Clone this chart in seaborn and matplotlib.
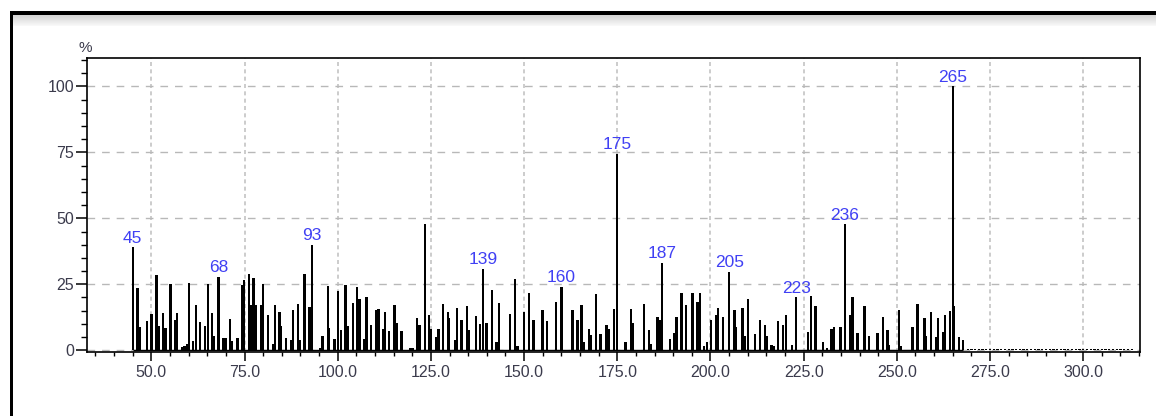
import numpy as np
import pandas as pd
import matplotlib
matplotlib.use("Agg")
import matplotlib.pyplot as plt
from matplotlib.patches import Rectangle
from matplotlib.ticker import MultipleLocator, FixedLocator, FuncFormatter
import seaborn as sns

# Mass spectrum: m/z positions and relative intensities (%)
mz = [
    45, 46.3, 46.9, 48.8, 50.0, 51.4, 52.0, 53.2, 53.8, 55.1, 56.3, 56.9, 58.2, 58.9, 59.6,
    60.1, 61.2, 61.9, 63.0, 64.4, 65.1, 66.2, 66.8, 68, 69.3, 69.9, 71.1, 71.7, 73.1, 74.4,
    74.9, 76.2, 76.7, 77.4, 78.0, 79.4, 79.9, 81.2, 82.6, 83.1, 84.4, 84.8, 86.2, 87.5, 87.9,
    89.3, 89.7, 91.1, 92.4, 93, 95.4, 95.9, 97.3, 97.7, 99.1, 100.1, 100.8, 102.1, 102.6, 104.0,
    105.1, 105.8, 107.1, 107.7, 109.0, 110.2, 110.9, 112.2, 112.7, 113.8, 115.2, 115.8, 117.1,
    119.5, 120.2, 121.3, 121.9, 123.4, 124.5, 125.0, 126.5, 127.0, 128.3, 129.5, 129.9, 131.4,
    131.9, 133.2, 134.6, 135.1, 137.0, 138.1, 139, 139.9, 141.3, 142.6, 143.2, 146.2, 147.5,
    148.2, 150.0, 151.3, 152.5, 154.9, 156.2, 158.5, 160, 163.0, 164.3, 165.4, 166.0, 167.4,
    167.9, 169.2, 170.5, 172.1, 172.8, 174.2, 175, 177.2, 178.6, 179.1, 182.1, 183.5, 184.1,
    185.8, 186.4, 187, 189.1, 190.3, 190.9, 192.2, 193.4, 195.2, 196.5, 197.2, 198.3, 199.0,
    200.1, 201.5, 202.1, 203.3, 205, 206.4, 206.8, 208.6, 209.2, 210.0, 212.0, 213.3, 214.6,
    215.1, 216.4, 217.0, 218.2, 219.5, 220.2, 221.8, 223, 226.2, 227.0, 228.2, 230.1, 231.2,
    232.5, 233.1, 234.9, 236, 237.4, 238.1, 239.4, 241.3, 242.5, 244.8, 246.2, 247.5, 247.9,
    250.6, 251.1, 254.2, 255.5, 257.4, 257.8, 259.2, 260.5, 261.1, 262.3, 262.9, 264.3, 265,
    265.4, 266.6, 267.8,
]
intensity = [
    39.0, 23.5, 8.7, 11.0, 13.8, 28.4, 9.2, 14.2, 8.5, 25.0, 11.3, 14.2, 1.3, 1.5, 2.2,
    25.5, 3.4, 17.0, 10.8, 9.2, 25.0, 14.2, 5.2, 27.8, 4.6, 4.6, 12.0, 3.3, 4.6, 24.6,
    26.6, 28.8, 17.0, 27.2, 17.0, 17.0, 25.0, 13.2, 2.2, 17.0, 14.4, 9.0, 4.5, 4.0, 15.3,
    17.4, 4.0, 28.8, 16.5, 40.0, 1.0, 5.5, 24.2, 8.4, 4.4, 22.6, 7.8, 24.6, 9.0, 18.0,
    24.0, 19.6, 4.3, 20.1, 9.4, 15.1, 15.7, 8.1, 14.4, 7.1, 17.3, 10.4, 7.1,
    1.0, 1.0, 12.3, 9.4, 47.9, 13.3, 8.2, 5.1, 8.2, 17.7, 14.4, 12.3, 3.7,
    16.0, 11.6, 16.7, 7.6, 13.1, 10.1, 30.8, 10.4, 23.0, 3.2, 18.0, 13.9, 27.0,
    1.5, 14.4, 21.8, 11.6, 15.1, 11.0, 18.3, 24.0, 15.1, 11.6, 17.2, 3.0, 8.2,
    5.6, 21.2, 6.0, 9.7, 8.2, 15.7, 74.5, 3.0, 15.7, 10.4, 17.7, 7.6, 2.5,
    12.6, 11.6, 33.1, 4.3, 6.6, 12.6, 21.8, 17.2, 21.8, 18.3, 21.8, 1.5, 3.0,
    11.6, 13.3, 16.0, 12.6, 29.7, 15.4, 8.7, 16.0, 5.3, 19.5, 6.0, 11.6, 9.7,
    5.3, 1.9, 1.5, 11.0, 9.4, 13.3, 1.9, 20.1, 7.0, 20.5, 16.7, 3.0, 1.0,
    8.2, 8.7, 8.7, 47.7, 13.3, 20.1, 6.6, 16.7, 5.3, 6.6, 12.6, 7.6, 1.9,
    15.1, 1.5, 8.7, 17.7, 12.3, 5.3, 14.4, 4.9, 12.3, 7.0, 13.3, 14.8, 100.0,
    16.7, 4.9, 3.7,
]

# Low-level trace above the baseline past the molecular ion
trace_mz = [
    269, 270, 271, 272, 273, 274, 275, 276, 277, 278, 279, 280, 281, 282, 283, 284,
    285, 286, 287, 288, 289, 290, 291, 292, 293, 294, 295, 296, 297, 298, 299, 300,
    301, 302, 303, 304, 305, 306, 307, 308, 309, 310, 311, 312, 313,
]
trace_intensity = [
    0.6, 0.6, 0.6, 0.6, 0.6, 0.6, 0.6, 0.6, 0.6, 0.6, 0.6, 0.6, 0.6, 0.6, 0.6, 0.6,
    0.6, 0.6, 0.6, 0.6, 0.6, 0.6, 0.6, 0.6, 0.6, 0.6, 0.6, 0.6, 0.6, 0.6, 0.6, 0.6,
    0.6, 0.6, 0.6, 0.6, 0.6, 0.6, 0.6, 0.6, 0.6, 0.6, 0.6, 0.6, 0.6,
]

# Annotated peaks
label_mz = [45, 68, 93, 139, 160, 175, 187, 205, 223, 236, 265]

x_ticks = [50, 75, 100, 125, 150, 175, 200, 225, 250, 275, 300]
y_ticks = [0, 25, 50, 75, 100]

sns.set_theme(style="white")
plt.rcParams["font.family"] = ["Liberation Sans", "DejaVu Sans"]

df = pd.DataFrame({
    "mz": mz + trace_mz,
    "intensity": intensity + trace_intensity,
})

W, H = 1156, 416
fig = plt.figure(figsize=(W / 100, H / 100), dpi=100)
fig.patch.set_facecolor("white")

# Window frame: dark border with a soft grey title band
band = fig.add_axes([13 / W, 1 - 26 / H, 1 - 13 / W, 11.5 / H])
band.imshow(np.linspace(0.82, 0.975, 32).reshape(-1, 1), cmap="gray",
            vmin=0, vmax=1, aspect="auto", extent=[0, 1, 0, 1])
band.set_axis_off()
fig.add_artist(Rectangle((9.5 / W, 1 - 14.5 / H), 1 - 9.5 / W, 3.5 / H,
                         transform=fig.transFigure, color="black", lw=0))
fig.add_artist(Rectangle((9.5 / W, 0), 3.8 / W, 1 - 11 / H,
                         transform=fig.transFigure, color="black", lw=0))

ax = fig.add_axes([87.3 / W, 1 - 352.3 / H, (1139.5 - 87.3) / W, (352.3 - 58) / H])

step = np.diff(np.unique(df["mz"])).min()
sns.barplot(data=df, x="mz", y="intensity", native_scale=True,
            width=0.62 / step, color="black", saturation=1,
            linewidth=0, errorbar=None, ax=ax)

# Baseline under the spectrum
ax.hlines(0, min(mz), max(mz), color="black", lw=1.0, zorder=3)

label_color = "#4040f4"
for m in label_mz:
    h = df.loc[np.isclose(df["mz"], m), "intensity"].max()
    ax.annotate(f"{m}", (m, h), xytext=(0, 1.2), textcoords="offset points",
                ha="center", va="bottom", color=label_color, fontsize=12.5)

ax.set_xlim(32.8, 315.1)
ax.set_ylim(-0.8, 110.8)

ax.xaxis.set_major_locator(FixedLocator(x_ticks))
ax.xaxis.set_major_formatter(FuncFormatter(lambda v, p: f"{v:.1f}"))
ax.xaxis.set_minor_locator(MultipleLocator(5))
ax.yaxis.set_major_locator(FixedLocator(y_ticks))
ax.yaxis.set_major_formatter(FuncFormatter(lambda v, p: f"{v:.0f}"))
ax.yaxis.set_minor_locator(MultipleLocator(5))

tick_color = "#3b3b4c"
ax.tick_params(axis="x", which="major", direction="out", length=6.5, width=1.1,
               color="black", pad=3, labelsize=11.5, labelcolor=tick_color,
               bottom=True, top=False)
ax.tick_params(axis="x", which="minor", direction="out", length=3, width=1.0,
               color="black", bottom=True, top=False)
ax.tick_params(axis="y", which="major", direction="out", length=8, width=1.1,
               color="black", pad=1.5, labelsize=11.5, labelcolor=tick_color,
               left=True, right=False)
ax.tick_params(axis="y", which="minor", direction="out", length=4, width=1.0,
               color="black", left=True, right=False)

ax.set_xlabel("")
ax.set_ylabel("")

# Grid: dashed horizontal, dotted vertical
ax.set_axisbelow(True)
ax.yaxis.grid(True, which="major", linestyle=(0, (5.5, 5)), color="#b8b8b8", lw=1.0)
ax.xaxis.grid(True, which="major", linestyle=(0, (2.4, 2.0)), color="#c4c4c4", lw=1.2)

for side in ["left", "right", "top", "bottom"]:
    ax.spines[side].set_visible(True)
    ax.spines[side].set_color("black")
    ax.spines[side].set_linewidth(1.2)

ax.text(-0.002, 1.01, "%", transform=ax.transAxes, ha="center", va="bottom",
        fontsize=11, color=tick_color)

fig.savefig("out.png", dpi=100, facecolor="white")
